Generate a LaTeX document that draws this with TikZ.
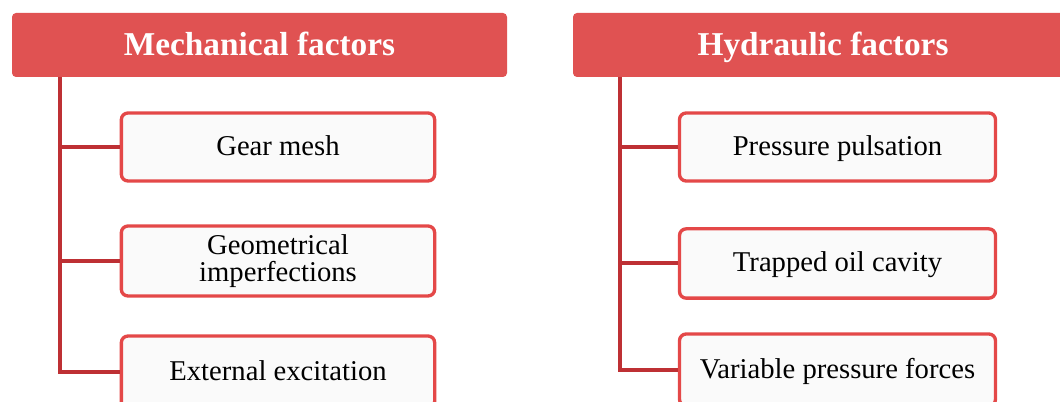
\documentclass[tikz,border=0pt]{standalone}
\usepackage{fontspec}
\setmainfont{Liberation Serif}
\usetikzlibrary{positioning}
\definecolor{headred}{RGB}{224,82,82}
\definecolor{edgered}{RGB}{228,72,72}
\definecolor{trunkred}{RGB}{190,48,52}
\definecolor{boxfill}{RGB}{250,250,250}
\tikzset{
  headbox/.style={draw=none,fill=headred,rounded corners=3pt,minimum height=48pt,
    text=white,text height=16.5pt,text depth=1pt,
    font=\fontsize{25}{28}\selectfont\bfseries},
  itembox/.style={draw=edgered,line width=2.5pt,fill=boxfill,rounded corners=5pt,
    align=center,font=\fontsize{21.5}{20}\selectfont},
  itemline/.style={itembox,text height=14.2pt,text depth=2pt},
  trunk/.style={draw=trunkred,line width=3pt}
}
\begin{document}
\begin{tikzpicture}[x=0.75pt,y=0.75pt,yscale=-1,xscale=1]
\useasboundingbox (0,0) rectangle (1060,402);
% Headers
\node [headbox,minimum width=371.25pt] (mech) at (259.5,45) {Mechanical factors};
\node [headbox,minimum width=375pt] (hydr) at (823,45) {Hydraulic factors};
% Mechanical items
\node [itemline,minimum width=235pt,minimum height=51pt] (gear) at (278,147) {Gear mesh};
\node [itembox,minimum width=235pt,minimum height=52.5pt] (geom) at (278,261) {Geometrical\\imperfections};
\node [itemline,minimum width=235pt,minimum height=54pt] (extx) at (278,372) {External excitation};
% Hydraulic items
\node [itemline,minimum width=237pt,minimum height=51pt] (puls) at (837.5,147) {Pressure pulsation};
\node [itemline,minimum width=237pt,minimum height=52pt] (trap) at (837.5,263.5) {Trapped oil cavity};
\node [itemline,minimum width=237pt,minimum height=54pt] (varp) at (837.5,370) {Variable pressure forces};
% Trunks
\coordinate (ml) at (60,77);
\coordinate (hl) at (620,77);
\draw [trunk] (ml) |- (extx.west);
\draw [trunk] (ml |- gear.west) -- (gear.west);
\draw [trunk] (ml |- geom.west) -- (geom.west);
\draw [trunk] (hl) |- (varp.west);
\draw [trunk] (hl |- puls.west) -- (puls.west);
\draw [trunk] (hl |- trap.west) -- (trap.west);
\end{tikzpicture}
\end{document}
